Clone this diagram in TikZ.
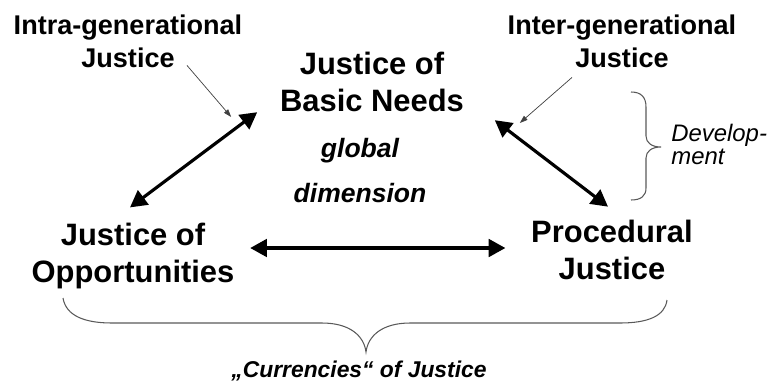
\documentclass[tikz,border=0pt]{standalone}
\usepackage{fontspec}
\setmainfont{Liberation Sans}
\usetikzlibrary{arrows.meta,calc,positioning}
\tikzset{
  mainlbl/.style={font=\fontsize{17.6}{21}\selectfont\bfseries,
                  align=center,inner sep=0pt},
  genlbl/.style={font=\fontsize{15.4}{18.7}\selectfont\bfseries,
                 align=center,inner sep=0pt},
  dimlbl/.style={font=\fontsize{15.1}{25.5}\selectfont\bfseries\itshape,
                 align=center,inner sep=0pt},
  notelbl/.style={font=\fontsize{13.6}{13}\selectfont\itshape,
                  align=left,inner sep=0pt},
  arr/.style={{Triangle[length=9.5pt,width=10pt]}-{Triangle[length=9.5pt,width=10pt]},
              line width=1.8pt},
  tarr/.style={-{Triangle[length=4.5pt,width=3pt]},line width=0.4pt,black!75},
  brc/.style={line width=0.6pt,black!65},
}
\begin{document}
\begin{tikzpicture}[x=0.02cm,y=-0.02cm]
  \useasboundingbox (0,0) rectangle (768,380);
  %% the three currencies
  \node[mainlbl] (needs) at (372,82.2) {Justice of\\Basic Needs};
  \node[mainlbl] (opp)   at (133,256)  {Justice of\\Opportunities};
  \node[mainlbl] (proc)  at (612,250.2) {Procedural\\Justice};
  \node[dimlbl]  (dim)   at (360,170.8) {global\\dimension};
  %% generational labels
  \node[genlbl] (intra) at (128,41.7) {Intra-generational\\Justice};
  \node[genlbl] (inter) at (622,41.7) {Inter-generational\\Justice};
  \node[notelbl,anchor=west] (dev) at (671,144.8) {Develop-\\ment};
  \node[font=\fontsize{13}{15}\selectfont\bfseries\itshape,inner sep=0pt,
        anchor=base] (cur) at (359,377) {„Currencies“ of Justice};
  %% thick links
  \draw[arr] ($(opp.north)+(-3,-15.4)$) -- ($(needs.west)+(-22.5,30)$);
  \draw[arr] ($(needs.east)+(30.5,38)$) -- ($(proc.north)+(-4,-13.4)$);
  \draw[arr] ($(opp.east)+(15.5,-8)$) -- ($(proc.west)+(-25.5,-2.2)$);
  %% thin pointers
  \draw[tarr] ($(intra.south)+(59,-3)$) -- ($(needs.west)+(-48.5,34.8)$);
  \draw[tarr] ($(inter.south)+(-50,9)$) -- ($(needs.east)+(55.5,40.8)$);
  %% braces
  \draw[brc] (631,92) .. controls (641,92) and (646,97) .. (646,107)
    -- (646,136) .. controls (646,143) and (652,147) .. (661,147)
    .. controls (652,147) and (646,151) .. (646,158)
    -- (646,188) .. controls (646,196) and (641,200) .. (631,200);
  \draw[brc] (63,298) .. controls (66,316) and (85,323) .. (112,323)
    -- (322,323) .. controls (350,323) and (364,336) .. (366,352)
    .. controls (368,336) and (382,323) .. (410,323)
    -- (620,323) .. controls (648,323) and (665,316) .. (667,300);
\end{tikzpicture}
\end{document}
